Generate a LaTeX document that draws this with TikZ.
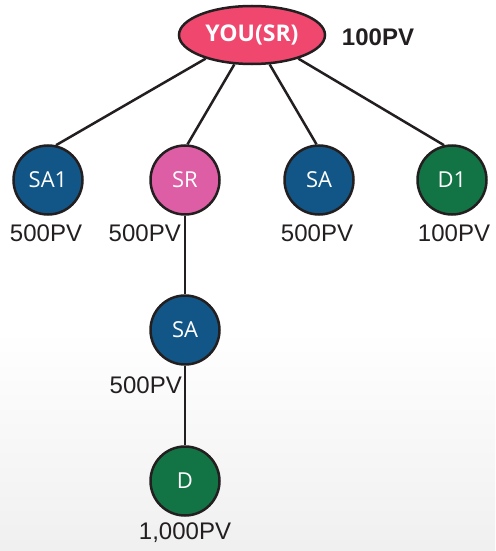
\documentclass[tikz,border=0pt]{standalone}
\usepackage{fontspec}
\setmainfont{Liberation Sans}
\newfontfamily\circfont{Open Sans}
\usetikzlibrary{shapes.geometric}

\definecolor{youred}{RGB}{239,71,110}
\definecolor{srpink}{RGB}{221,94,164}
\definecolor{sablue}{RGB}{17,86,134}
\definecolor{dgreen}{RGB}{18,116,68}
\definecolor{linedark}{RGB}{35,31,32}

\begin{document}
\begin{tikzpicture}[x=1pt,y=-1pt,
    member/.style={circle,draw=linedark,line width=2.5pt,minimum size=69pt,inner sep=0pt,
        text=white,font=\circfont\fontsize{22}{26}\selectfont},
    pv/.style={font=\fontsize{24}{28}\selectfont,text=linedark,inner sep=0pt},
    link/.style={draw=linedark,line width=2.5pt}]
    \useasboundingbox (0,0) rectangle (495,551);
    \shade[top color=white,bottom color=black!6] (0,330) rectangle (495,551);
    % top of the tree
    \node[ellipse,draw=linedark,line width=2.5pt,fill=youred,minimum width=146pt,minimum height=58pt,
        text=white,font=\circfont\bfseries\fontsize{23}{27}\selectfont] (you) at (252,35) {YOU(SR)};
    \node[pv,font=\bfseries\fontsize{24}{28}\selectfont] (youpv) at (378,37) {100PV};
    % first level
    \node[member,fill=sablue] (sa1) at (48,180) {SA1};
    \node[member,fill=srpink] (sr) at (185,180) {SR};
    \node[member,fill=sablue] (sa) at (319,180) {SA};
    \node[member,fill=dgreen] (d1) at (452,180) {D1};
    \node[pv] (sa1pv) at (46,233) {500PV};
    \node[pv,anchor=east] (srpv) at (181,233) {500PV};
    \node[pv] (sapv) at (317,233) {500PV};
    \node[pv] (d1pv) at (454,233) {100PV};
    % second and third level
    \node[member,fill=sablue] (sa2) at (185,330) {SA};
    \node[pv,anchor=east] (sa2pv) at (182,385) {500PV};
    \node[member,fill=dgreen] (d) at (185,481) {D};
    \node[pv] (dpv) at (185,533) {1,000PV};
    % connectors
    \draw[link] (you.207) -- (sa1.77);
    \draw[link] (you.239) -- (sr.86);
    \draw[link] (you.301) -- (sa.94);
    \draw[link] (you.333) -- (d1.103);
    \draw[link] (sr) -- (sa2);
    \draw[link] (sa2) -- (d);
\end{tikzpicture}
\end{document}
